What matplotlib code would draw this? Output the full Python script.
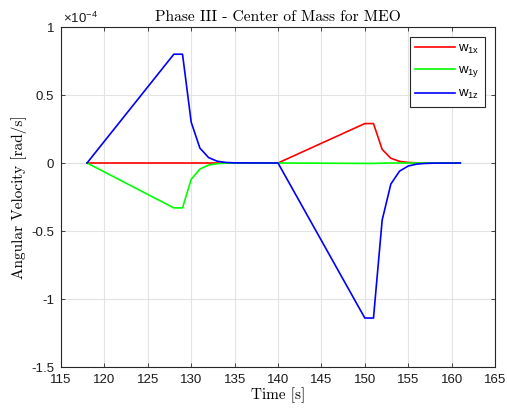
import numpy as np
import matplotlib.pyplot as plt

# _________________________________________________________________
# data (angular velocity in units of 1e-4 rad/s)
time_s = [118, 128, 129, 130, 131, 132, 133, 134, 135, 140,
          150, 151, 152, 153, 154, 155, 156, 157, 158, 161]
w1x = [0, 0, 0, 0, 0, 0, 0, 0, 0, 0,
       0.29, 0.29, 0.10, 0.035, 0.012, 0.004, 0.001, 0, 0, 0]
w1y = [0, -0.33, -0.33, -0.12, -0.045, -0.015, -0.005, -0.001, 0, 0,
       -0.003, -0.003, -0.001, 0, 0, 0, 0, 0, 0, 0]
w1z = [0, 0.80, 0.80, 0.30, 0.11, 0.04, 0.013, 0.004, 0.001, 0,
       -1.14, -1.14, -0.42, -0.155, -0.06, -0.022, -0.008, -0.003, -0.001, 0]

x_ticks = [115, 120, 125, 130, 135, 140, 145, 150, 155, 160, 165]
y_ticks = [-1.5, -1, -0.5, 0, 0.5, 1]
y_tick_labels = ["-1.5", "-1", "-0.5", "0", "0.5", "1"]
# _________________________________________________________________

plt.rcParams['font.family'] = ['Liberation Sans', 'DejaVu Sans']
plt.rcParams['axes.unicode_minus'] = False
plt.rcParams['mathtext.fontset'] = 'custom'
plt.rcParams['mathtext.rm'] = 'Liberation Sans'

axis_col = '#262626'

fig = plt.figure(figsize=(5.07, 4.12), dpi=100)
ax = fig.add_axes([61 / 507, 1 - 367 / 412, 434 / 507, 340 / 412])

ax.plot(time_s, w1x, color=(1, 0, 0), lw=1.2, label=r'w$\mathregular{_{1x}}$')
ax.plot(time_s, w1y, color=(0, 1, 0), lw=1.2, label=r'w$\mathregular{_{1y}}$')
ax.plot(time_s, w1z, color=(0, 0, 1), lw=1.2, label=r'w$\mathregular{_{1z}}$')

ax.set_xlim(115, 165)
ax.set_ylim(-1.5, 1)
ax.set_xticks(x_ticks)
ax.set_yticks(y_ticks)
ax.set_yticklabels(y_tick_labels)

ax.grid(True, color='#e3e3e3', lw=0.8)
ax.set_axisbelow(True)
for s in ax.spines.values():
    s.set_color(axis_col)
    s.set_linewidth(0.8)
ax.tick_params(direction='in', length=3, width=0.6, colors=axis_col,
               labelsize=9.5, top=True, right=True, pad=5)
for lab in ax.get_xticklabels() + ax.get_yticklabels():
    lab.set_color('#1a1a1a')

ax.text(0.005, 1.003, r'$\times\mathregular{10^{-4}}$', transform=ax.transAxes,
        fontsize=9.5, ha='left', va='bottom', color='#1a1a1a')

ax.set_title('Phase III - Center of Mass for MEO', fontfamily='cmr10',
             fontsize=11.2, pad=4)
ax.set_xlabel('Time [s]', fontfamily='cmr10', fontsize=11, labelpad=1)
ax.set_ylabel('Angular Velocity [rad/s]', fontfamily='cmr10', fontsize=11,
              labelpad=3)

leg = ax.legend(loc='upper right', fontsize=9.5, fancybox=False, framealpha=1,
                edgecolor=axis_col, handlelength=3.0, labelspacing=0.65,
                borderaxespad=0.75, handletextpad=0.25, borderpad=0.4)
leg.get_frame().set_linewidth(0.8)

fig.savefig('out.png', dpi=100)
